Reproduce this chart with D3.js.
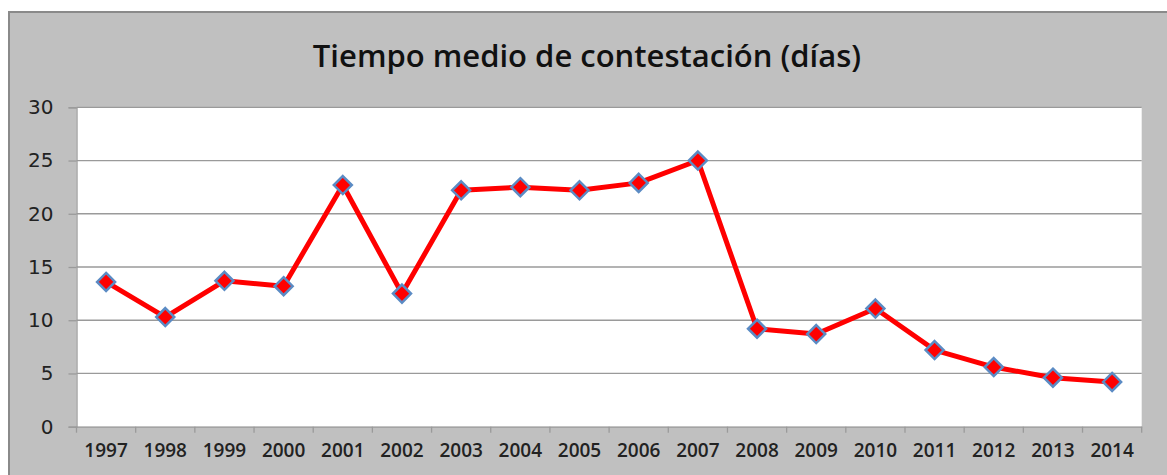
<!DOCTYPE html>
<html lang="es">
<head>
  <meta charset="UTF-8">
  <title>Tiempo medio de contestación</title>
  <script src="https://d3js.org/d3.v7.min.js"></script>
  <style>
    body { margin: 0; background: #fff; }
    .tick text { fill: #222; }
  </style>
</head>
<body>
  <div id="chart"></div>
  <script>
    const years = ["1997","1998","1999","2000","2001","2002","2003","2004","2005",
                   "2006","2007","2008","2009","2010","2011","2012","2013","2014"];
    const dias = [13.6, 10.3, 13.7, 13.2, 22.7, 12.5, 22.2, 22.5, 22.2,
                  22.9, 25.0, 9.2, 8.7, 11.1, 7.2, 5.6, 4.6, 4.2];
    const yTicks = [0, 5, 10, 15, 20, 25, 30];

    const W = 1167, H = 475;
    const plot = {left: 76.5, top: 107.3, right: 1141.7, bottom: 426.7};

    const svg = d3.select("#chart").append("svg")
      .attr("width", W).attr("height", H);

    // outer panel
    svg.append("rect")
      .attr("x", 9).attr("y", 12)
      .attr("width", W).attr("height", H)
      .attr("fill", "#c0c0c0")
      .attr("stroke", "#8a8a8a").attr("stroke-width", 2);

    svg.append("text")
      .attr("x", 587).attr("y", 67)
      .attr("text-anchor", "middle")
      .style("font-family", "Open Sans")
      .style("font-weight", 600)
      .style("font-size", "31px")
      .attr("fill", "#111")
      .text("Tiempo medio de contestación (días)");

    svg.append("rect")
      .attr("x", plot.left).attr("y", plot.top)
      .attr("width", plot.right - plot.left).attr("height", plot.bottom - plot.top)
      .attr("fill", "#fff");

    const x = d3.scaleBand().domain(years).range([plot.left, plot.right]);
    const y = d3.scaleLinear().domain([0, 30]).range([plot.bottom, plot.top]);

    // grid
    svg.append("g")
      .selectAll("line").data(yTicks.slice(1)).join("line")
      .attr("x1", plot.left).attr("x2", plot.right)
      .attr("y1", d => y(d)).attr("y2", d => y(d))
      .attr("stroke", "#9a9a9a").attr("stroke-width", 1.3);

    const yAxis = svg.append("g")
      .attr("transform", `translate(${plot.left},0)`)
      .call(d3.axisLeft(y).tickValues(yTicks).tickSize(8).tickPadding(15));
    yAxis.select(".domain").attr("stroke", "#9a9a9a").attr("stroke-width", 1.3);
    yAxis.selectAll(".tick line").attr("stroke", "#9a9a9a").attr("stroke-width", 1.3);
    yAxis.selectAll(".tick text")
      .style("font-family", "DejaVu Sans").style("font-size", "20px").attr("fill", "#222");

    const xAxis = svg.append("g")
      .attr("transform", `translate(0,${plot.bottom})`)
      .call(d3.axisBottom(x).tickSize(0).tickPadding(17));
    xAxis.select(".domain").attr("stroke", "#9a9a9a").attr("stroke-width", 1.3);
    xAxis.selectAll(".tick text")
      .style("font-family", "Open Sans").style("font-weight", 600).style("font-size", "19px")
      .attr("fill", "#111").attr("dy", "0.71em");

    // category boundary ticks
    const bounds = years.map(d => x(d)).concat([plot.right]);
    svg.append("g")
      .selectAll("line").data(bounds).join("line")
      .attr("x1", d => d).attr("x2", d => d)
      .attr("y1", plot.bottom).attr("y2", plot.bottom + 6)
      .attr("stroke", "#9a9a9a").attr("stroke-width", 1.3);

    const cx = d => x(d) + x.bandwidth() / 2;
    const line = d3.line()
      .x((d, i) => cx(years[i]))
      .y(d => y(d));

    svg.append("path")
      .datum(dias)
      .attr("d", line)
      .attr("fill", "none")
      .attr("stroke", "#ff0000")
      .attr("stroke-width", 5)
      .attr("stroke-linejoin", "round");

    const r = 9;
    svg.append("g")
      .selectAll("path").data(dias).join("path")
      .attr("transform", (d, i) => `translate(${cx(years[i])},${y(d)})`)
      .attr("d", `M0,${-r}L${r},0L0,${r}L${-r},0Z`)
      .attr("fill", "#ff0000")
      .attr("stroke", "#5b8bc4")
      .attr("stroke-width", 2.5);
  </script>
</body>
</html>
